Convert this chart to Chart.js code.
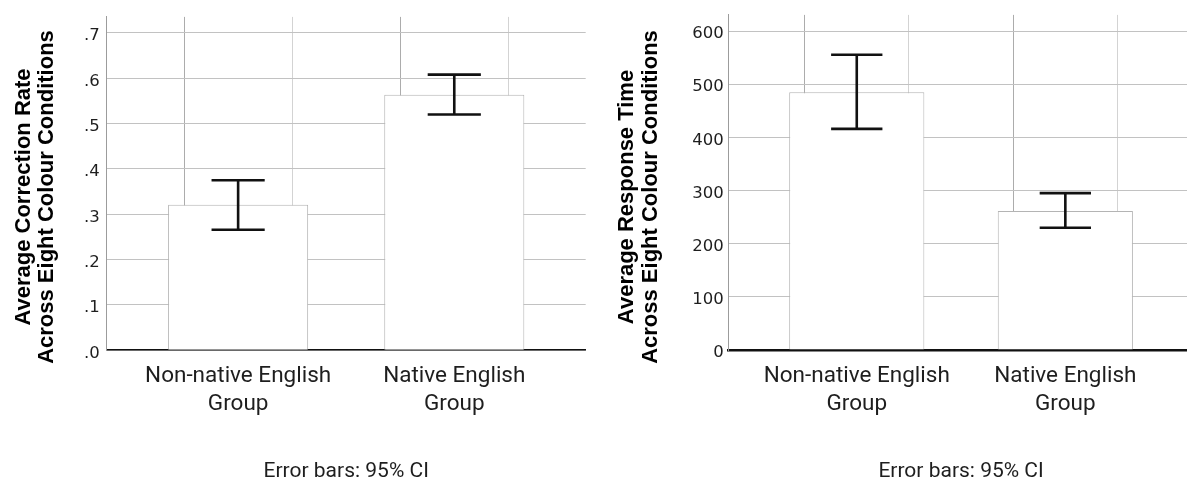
<!DOCTYPE html>
<html>
<head>
<meta charset="utf-8">
<script src="https://cdn.jsdelivr.net/npm/chart.js@4.4.1/dist/chart.umd.min.js"></script>
<style>
  html, body { margin: 0; padding: 0; background: #ffffff; overflow: hidden; width: 1187px; height: 482px; }
  .panel { position: absolute; top: 0; height: 482px; }
  #ratePanel { left: 0; width: 600px; }
  #timePanel { left: 600px; width: 600px; }
</style>
</head>
<body>
<div class="panel" id="ratePanel"><canvas id="rateChart" width="600" height="482"></canvas></div>
<div class="panel" id="timePanel"><canvas id="timeChart" width="600" height="482"></canvas></div>
<script>
// Groups on the horizontal axis
const groupLabels = [["Non-native English", "Group"], ["Native English", "Group"]];

// Average correction rate with 95% CI bounds
const rateMeans = [0.321, 0.5635];
const rateLower = [0.266, 0.520];
const rateUpper = [0.375, 0.608];
const rateTicks = [0, 0.1, 0.2, 0.3, 0.4, 0.5, 0.6, 0.7];

// Average response time with 95% CI bounds
const timeMeans = [484.7, 261.6];
const timeLower = [415.9, 230.0];
const timeUpper = [555.4, 295.1];
const timeTicks = [0, 100, 200, 300, 400, 500, 600];

// Vertical grid: group centres and the boundaries between them
const gridSteps = [-0.5, 0, 0.5, 1, 1.5];

const rateTitle = ["Average Correction Rate", "Across Eight Colour Conditions"];
const timeTitle = ["Average Response Time", "Across Eight Colour Conditions"];
const footnote = "Error bars: 95% CI";

const INK = '#1e1e1e';

// Whisker + caps for each bar, placed through the chart's own scales
const ciWhiskers = {
  id: 'ciWhiskers',
  afterDatasetsDraw(chart) {
    const { ctx, scales: { x, y } } = chart;
    const ds = chart.data.datasets[0];
    const capHalf = ds.capHalf;
    ctx.save();
    ctx.strokeStyle = '#111111';
    ctx.lineWidth = 2.6;
    ctx.lineCap = 'butt';
    ds.ciLower.forEach((lo, i) => {
      const hi = ds.ciUpper[i];
      const cx = x.getPixelForValue(i);
      const xl = x.getPixelForValue(i - capHalf);
      const xr = x.getPixelForValue(i + capHalf);
      const yl = y.getPixelForValue(lo);
      const yh = y.getPixelForValue(hi);
      ctx.beginPath();
      ctx.moveTo(cx, yh); ctx.lineTo(cx, yl);
      ctx.moveTo(xl, yh); ctx.lineTo(xr, yh);
      ctx.moveTo(xl, yl); ctx.lineTo(xr, yl);
      ctx.stroke();
    });
    ctx.restore();
  }
};

// Two-line rotated axis title down the left side
function sideTitle(lines, baselines, centerY) {
  return {
    id: 'sideTitle',
    afterDraw(chart) {
      const ctx = chart.ctx;
      ctx.save();
      ctx.fillStyle = '#000000';
      ctx.font = 'bold 22px "Liberation Sans", Arial, sans-serif';
      ctx.textAlign = 'center';
      ctx.textBaseline = 'alphabetic';
      lines.forEach((line, i) => {
        ctx.save();
        ctx.translate(baselines[i], centerY);
        ctx.rotate(-Math.PI / 2);
        ctx.fillText(line, 0, 0);
        ctx.restore();
      });
      ctx.restore();
    }
  };
}

function buildChart(canvasId, p) {
  return new Chart(document.getElementById(canvasId), {
    type: 'bar',
    data: {
      datasets: [{
        data: p.means.map((v, i) => ({ x: i, y: v })),
        ciLower: p.lower,
        ciUpper: p.upper,
        capHalf: 0.123,
        backgroundColor: '#ffffff',
        borderColor: '#b4b4b4',
        borderWidth: 1,
        borderSkipped: 'start',
        // grid ticks fall every half group, so a full group spans two tick gaps
        categoryPercentage: 2,
        barPercentage: 0.648
      }]
    },
    options: {
      responsive: false,
      animation: false,
      devicePixelRatio: 1,
      layout: { padding: { top: 11, right: p.padRight, left: 0, bottom: 0 } },
      plugins: { legend: { display: false }, tooltip: { enabled: false } },
      scales: {
        x: {
          type: 'linear',
          min: p.xMin,
          max: p.xMax,
          offset: false,
          afterBuildTicks: s => { s.ticks = gridSteps.map(v => ({ value: v })); },
          afterFit: s => { s.height = p.xAxisHeight; },
          grid: {
            drawTicks: false,
            lineWidth: 1,
            color: c => (c.tick && Number.isInteger(c.tick.value)) ? '#acacac' : '#d3d3d3'
          },
          border: { display: true, color: '#111111', width: p.baseWidth },
          ticks: {
            autoSkip: false,
            maxRotation: 0,
            padding: 12,
            color: INK,
            font: { family: 'Roboto', size: 22.5, lineHeight: 1.25 },
            callback: v => (Number.isInteger(v) && groupLabels[v]) ? groupLabels[v] : ''
          },
          title: {
            display: true,
            text: footnote,
            color: INK,
            font: { family: 'Roboto', size: 21, lineHeight: 1 },
            padding: { top: 0, bottom: 0 }
          }
        },
        y: {
          min: 0,
          max: p.yMax,
          afterBuildTicks: s => { s.ticks = p.ticks.map(v => ({ value: v })); },
          afterFit: s => { s.width = p.yAxisWidth; },
          grid: { drawTicks: false, color: '#c2c2c2', lineWidth: 1 },
          border: { display: true, color: '#9c9c9c', width: 1 },
          ticks: {
            padding: p.tickPad,
            labelOffset: 3,
            color: INK,
            font: { family: '"DejaVu Sans"', size: 16.5 },
            callback: p.fmt
          }
        }
      }
    },
    plugins: [ciWhiskers, sideTitle(p.title, p.titleBaselines, 197)]
  });
}

buildChart('rateChart', {
  means: rateMeans, lower: rateLower, upper: rateUpper, ticks: rateTicks,
  fmt: v => v.toFixed(1).replace(/^0/, ''),
  yMax: 0.7354, xMin: -0.608, xMax: 1.608,
  padRight: 14.3, yAxisWidth: 106.7, xAxisHeight: 131.7,
  tickPad: 7, baseWidth: 1.6,
  title: rateTitle, titleBaselines: [30, 53]
});

buildChart('timeChart', {
  means: timeMeans, lower: timeLower, upper: timeUpper, ticks: timeTicks,
  fmt: v => String(v),
  yMax: 630.3, xMin: -0.614, xMax: 1.614,
  padRight: 6.6, yAxisWidth: 128.7, xAxisHeight: 132,
  tickPad: 5, baseWidth: 2.4,
  title: timeTitle, titleBaselines: [33.3, 56.7]
});
</script>
</body>
</html>
